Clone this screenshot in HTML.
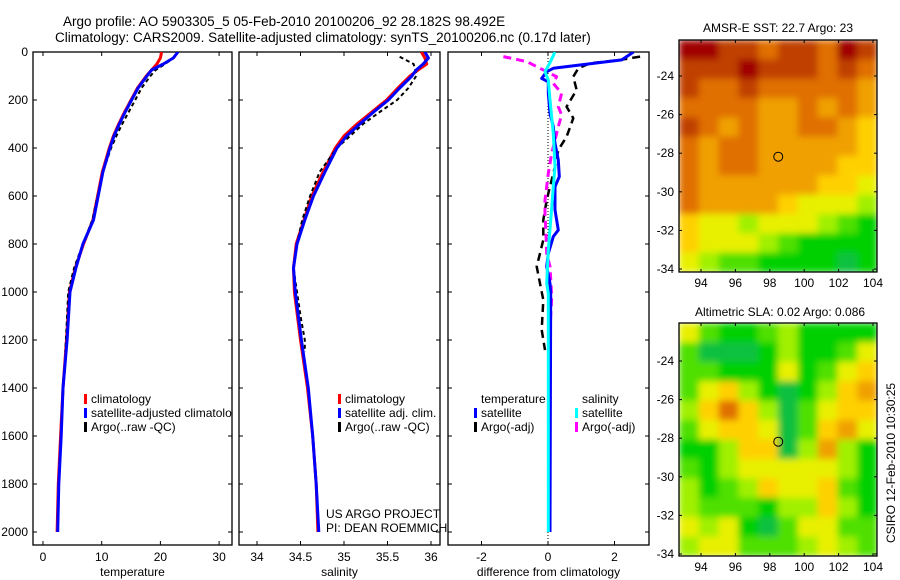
<!DOCTYPE html>
<html><head><meta charset="utf-8"><style>
html,body{margin:0;padding:0;background:#fff;}
svg{display:block;font-family:"Liberation Sans",sans-serif;}
text{font-size:12px;fill:#000;}
</style></head><body>
<svg id="fig" width="900" height="580" viewBox="0 0 900 580" xmlns="http://www.w3.org/2000/svg">
<text x="63" y="26" style="font-size:13.5px">Argo profile: AO 5903305_5 05-Feb-2010 20100206_92 28.182S 98.492E</text>
<text x="55" y="42" style="font-size:13.5px">Climatology: CARS2009. Satellite-adjusted climatology: synTS_20100206.nc (0.17d later)</text>
<text x="778" y="32" text-anchor="middle">AMSR-E SST: 22.7 Argo: 23</text>
<text x="780" y="316" text-anchor="middle">Altimetric SLA: 0.02 Argo: 0.086</text>
<text transform="translate(895,463) rotate(-90)" text-anchor="middle">CSIRO 12-Feb-2010 10:30:25</text>
<defs>
<clipPath id="c1"><rect x="33" y="52" width="199" height="493"/></clipPath>
<clipPath id="c2"><rect x="239" y="52" width="201" height="493"/></clipPath>
<clipPath id="c3"><rect x="448" y="52" width="201" height="493"/></clipPath>
<filter id="bl1" filterUnits="userSpaceOnUse" x="679" y="40" width="198" height="232"><feGaussianBlur stdDeviation="3.5" edgeMode="duplicate"/></filter>
<filter id="bl2" filterUnits="userSpaceOnUse" x="679" y="323" width="198" height="233"><feGaussianBlur stdDeviation="3.5" edgeMode="duplicate"/></filter>
</defs>
<g id="g1"></g>
<g id="g2"></g>
<g id="g3"></g>
<g id="m1"></g>
<g id="m2"></g>
</svg>
<script>
// ---- data ----
const depthTicks = [0,200,400,600,800,1000,1200,1400,1600,1800,2000];
const tempTicks = [0,10,20,30];
const salTicks = [34,34.5,35,35.5,36];
const diffTicks = [-2,0,2];
const profDepth = [0,25,50,75,100,150,200,250,300,350,400,500,600,700,800,900,1000,1200,1400,1600,1800,2000];
const tempClim = [20.2,20,19.4,18.5,17.6,16.1,15.0,13.9,12.9,12.0,11.3,10.1,9.3,8.5,6.9,5.5,4.5,4.0,3.4,3.0,2.6,2.4];
const tempSat = [23,22.2,20.5,18.5,17.7,16.2,15.1,14,13,12.1,11.4,10.2,9.4,8.6,6.8,5.6,4.6,4.1,3.4,3.1,2.7,2.5];
const salClim = [35.89,35.93,35.95,35.85,35.76,35.62,35.49,35.32,35.15,35.0,34.9,34.76,34.63,34.54,34.45,34.42,34.43,34.5,34.58,34.64,34.68,34.7];
const salSat = [35.93,35.97,35.91,35.83,35.78,35.64,35.51,35.34,35.18,35.03,34.92,34.78,34.65,34.55,34.46,34.42,34.44,34.51,34.59,34.64,34.68,34.71];
const argoDepth = [20,50,75,100,150,200,250,300,350,400,500,600,700,800,900,1000,1100,1200,1250];
const tempArgo = [22.5,20.8,19.2,18.3,16.8,15.7,14.6,13.5,12.5,11.6,10.2,9.3,8.4,6.8,5.3,4.3,4.1,3.9,3.8];
const salArgo = [35.64,35.8,35.82,35.83,35.74,35.61,35.41,35.22,35.07,34.92,34.72,34.61,34.52,34.46,34.42,34.46,34.5,34.55,34.55];
const dTSatDepth = [0,33,54,68,82,110,124,172,256,311,381,450,519,561,658,742,769,839,894,964,1006,2000];
const dTSat = [2.57,2.22,0.96,0.16,-0.04,-0.19,0.01,0.01,0.06,0.16,0.21,0.31,0.34,0.21,0.21,0.31,0.16,0.01,-0.04,0.06,0.08,0.06];
const dTArgoDepth = [19,33,47,68,103,158,228,276,353,408,478,506,561,617,700,783,839,894,964,1033,1158,1242];
const dTArgo = [2.77,2.17,1.26,0.91,0.76,0.86,0.56,0.76,0.56,0.31,0.21,0.16,0.06,-0.04,-0.14,-0.14,-0.24,-0.34,-0.24,-0.14,-0.19,-0.09];
const dSSatDepth = [0,44,82,117,200,339,478,561,686,825,964,1006,2000];
const dSSat = [0.21,0.06,-0.09,0.01,0.06,0.16,0.21,0.16,0.09,0.01,-0.04,0.01,0.01];
const dSArgoDepth = [19,40,68,103,131,172,228,262,311,367,422,506,561,617,672,756,839,894,1021,1158,1242];
const dSArgo = [-1.34,-0.64,-0.24,0.26,0.16,0.41,0.31,0.41,0.31,0.21,0.11,0.01,-0.04,-0.09,-0.09,-0.06,-0.04,0.06,0.11,0.06,0.06];
const lonTicks = [94,96,98,100,102,104];
const latTicks = [-24,-26,-28,-30,-32,-34];
const argoLon = 98.492, argoLat = -28.182;
const sstGrid = [
[10,10,9,9,8,9,9,8,10,9],
[9,9,9,10,9,9,9,8,9,8],
[9,8,8,9,8,8,8,8,8,7],
[8,8,8,8,7,7,8,7,8,7],
[9,8,7,8,7,7,8,8,7,6],
[8,7,8,8,7,7,7,7,7,6],
[8,7,8,8,7,7,7,7,6,6],
[8,7,7,7,7,7,7,6,6,5],
[8,7,7,7,7,6,5,5,5,4],
[6,5,5,4,5,5,5,4,3,2],
[6,5,5,5,4,3,2,2,2,2],
[5,4,3,3,2,2,2,2,1,2]];
const slaGrid = [
[5,3,2,2,3,4,2,2,2,2],
[3,1,1,1,2,4,2,2,3,5],
[3,3,2,2,2,5,2,3,5,6],
[3,5,6,4,2,1,2,4,6,7],
[4,6,8,6,4,1,3,5,6,6],
[3,5,6,6,5,1,3,6,7,5],
[2,2,4,6,6,1,4,7,4,2],
[3,2,4,5,5,5,5,5,4,2],
[4,2,3,4,6,5,5,6,3,2],
[4,3,3,3,2,4,4,6,4,2],
[5,4,5,2,1,3,5,5,3,3],
[4,5,5,3,3,3,4,5,4,3]];

// ---- helpers ----
const NS='http://www.w3.org/2000/svg';
function mk(parent,tag,attrs,txt){const e=document.createElementNS(NS,tag);for(const k in attrs)e.setAttribute(k,attrs[k]);if(txt!==undefined)e.textContent=txt;parent.appendChild(e);return e;}
const Y = d => 52 + d*0.24;

function panel(g,x0,x1,xs,ticks,fmtTick,xlabel,showY,clip){
  const top=52,bot=545;
  const fr=mk(g,'rect',{x:x0,y:top,width:x1-x0,height:bot-top,fill:'none',stroke:'#000','stroke-width':1.3});
  
  
  depthTicks.forEach(d=>{
    mk(g,'line',{x1:x0,x2:x0+4,y1:Y(d),y2:Y(d),stroke:'#000'});
    mk(g,'line',{x1:x1,x2:x1-4,y1:Y(d),y2:Y(d),stroke:'#000'});
    if(showY){const t=mk(g,'text',{x:28,y:Y(d)+4,'text-anchor':'end'},String(d));
      
      }
  });
  ticks.forEach(v=>{
    const x=xs(v);
    mk(g,'line',{x1:x,x2:x,y1:top,y2:top+4,stroke:'#000'});
    mk(g,'line',{x1:x,x2:x,y1:bot,y2:bot-4,stroke:'#000'});
    const t=mk(g,'text',{x:x,y:561,'text-anchor':'middle'},fmtTick(v));
    
    
  });
  const xl=mk(g,'text',{x:(x0+x1)/2,y:576,'text-anchor':'middle'},xlabel);
  
  
  const cg=mk(g,'g',{'clip-path':'url(#'+clip+')'});
  return cg;
}
function line(g,vals,depths,xs,color,w,dash,name){
  const pts=vals.map((v,i)=>xs(v).toFixed(1)+','+Y(depths[i]).toFixed(1)).join(' ');
  const p=mk(g,'polyline',{points:pts,fill:'none',stroke:color,'stroke-width':w,'stroke-linejoin':'round'});
  if(dash)p.setAttribute('stroke-dasharray',dash);
  
  
}
function legend(g,x,y,items){
  items.forEach((it,i)=>{
    if(it.c){mk(g,'rect',{x:x,y:y+i*14-9,width:3,height:10,fill:it.c});}
    const t=mk(g,'text',{x:x+7,y:y+i*14},it.t);
    
    
  });
}

// panel 1 temperature
const xT = v => 43 + v*5.87;
const c1 = panel(document.getElementById('g1'),33,232,xT,tempTicks,String,'temperature',true,'c1');
line(c1,tempClim,profDepth,xT,'#ff0000',3,null,'temp-climatology-line');
line(c1,tempArgo,argoDepth,xT,'#000',2,'4,3','temp-argo-line');
line(c1,tempSat,profDepth,xT,'#0000ff',3,null,'temp-satellite-line');
legend(c1,84,403,[{c:'#ff0000',t:'climatology'},{c:'#0000ff',t:'satellite-adjusted climatology'},{c:'#000',t:'Argo(..raw -QC)'}]);

// panel 2 salinity
const xS = v => 257 + (v-34)*87;
const c2 = panel(document.getElementById('g2'),239,440,xS,salTicks,String,'salinity',false,'c2');
line(c2,salClim,profDepth,xS,'#ff0000',3,null,'sal-climatology-line');
line(c2,salArgo,argoDepth,xS,'#000',2,'4,3','sal-argo-line');
line(c2,salSat,profDepth,xS,'#0000ff',3,null,'sal-satellite-line');
legend(c2,338,403,[{c:'#ff0000',t:'climatology'},{c:'#0000ff',t:'satellite adj. clim.'},{c:'#000',t:'Argo(..raw -QC)'}]);
const g2=document.getElementById('g2');
const n1=mk(g2,'text',{x:326,y:518},'US ARGO PROJECT');


const n2=mk(g2,'text',{x:326,y:532},'PI: DEAN ROEMMICH');



// panel 3 difference
const xD = v => 548 + v*33.25;
const c3 = panel(document.getElementById('g3'),448,649,xD,diffTicks,String,'difference from climatology',false,'c3');
mk(c3,'line',{x1:xD(0),x2:xD(0),y1:52,y2:545,stroke:'#000','stroke-width':1,'stroke-dasharray':'1,2'});
line(c3,dTArgo,dTArgoDepth,xD,'#000',2.5,'8,5','diff-temp-argo-line');
line(c3,dSArgo,dSArgoDepth,xD,'#ff00ff',3,'8,5','diff-sal-argo-line');
line(c3,dTSat,dTSatDepth,xD,'#0000ff',3,null,'diff-temp-satellite-line');
line(c3,dSSat,dSSatDepth,xD,'#00ffff',3,null,'diff-sal-satellite-line');
legend(c3,474,403,[{t:'temperature'},{c:'#0000ff',t:'satellite'},{c:'#000',t:'Argo(-adj)'}]);
legend(c3,575,403,[{t:'salinity'},{c:'#00ffff',t:'satellite'},{c:'#ff00ff',t:'Argo(-adj)'}]);

// maps
const stops=[[0,[16,176,128]],[2,[0,208,0]],[4,[160,240,0]],[5,[232,240,0]],[6,[255,208,0]],[7,[240,160,0]],[8,[224,112,0]],[9,[192,64,0]],[10,[160,0,0]]];
function cmap(v){
  for(let i=1;i<stops.length;i++){if(v<=stops[i][0]){const a=stops[i-1],b=stops[i];const f=(v-a[0])/(b[0]-a[0]);
    return 'rgb('+a[1].map((c,k)=>Math.round(c+(b[1][k]-c)*f)).join(',')+')';}}
  return 'rgb(160,0,0)';
}
function map(gid,top,bot,lat24y,grid,filt){
  const g=document.getElementById(gid);
  const x0=679,x1=877;
  const lonX=lon=>701+(lon-94)*17.2;
  const latY=lat=>lat24y+(-24-lat)*19.3;
  const rows=grid.length,cols=grid[0].length;
  const cw=(x1-x0)/cols,ch=(bot-top)/rows;
  const cg=mk(g,'g',{filter:'url(#'+filt+')'});
  grid.forEach((row,r)=>row.forEach((v,c)=>{
    const cell=mk(cg,'rect',{x:(x0+c*cw).toFixed(2),y:(top+r*ch).toFixed(2),width:(cw+0.6).toFixed(2),height:(ch+0.6).toFixed(2),fill:cmap(v)});
    
    
  }));
  const fr=mk(g,'rect',{x:x0,y:top,width:x1-x0,height:bot-top,fill:'none',stroke:'#000','stroke-width':1.3});
  
  
  lonTicks.forEach(l=>{const x=lonX(l);
    mk(g,'line',{x1:x,x2:x,y1:top,y2:top+3,stroke:'#000'});
    mk(g,'line',{x1:x,x2:x,y1:bot,y2:bot-3,stroke:'#000'});
    const t=mk(g,'text',{x:x,y:bot+15,'text-anchor':'middle'},String(l));
    
    });
  latTicks.forEach(l=>{const y=latY(l);
    mk(g,'line',{x1:x0,x2:x0+3,y1:y,y2:y,stroke:'#000'});
    mk(g,'line',{x1:x1,x2:x1-3,y1:y,y2:y,stroke:'#000'});
    const t=mk(g,'text',{x:674,y:y+4,'text-anchor':'end'},String(l));
    
    });
  const m=mk(g,'circle',{cx:lonX(argoLon),cy:latY(argoLat),r:4.5,fill:'none',stroke:'#000','stroke-width':1});
  
  
}
map('m1',40,272,76,sstGrid,'bl1');
map('m2',323,556,361,slaGrid,'bl2');
</script>
</body></html>
